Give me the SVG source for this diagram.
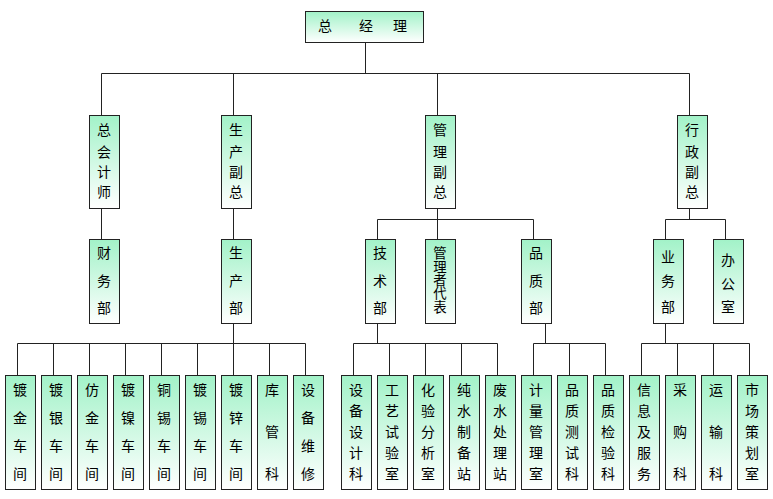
<svg xmlns="http://www.w3.org/2000/svg" width="773" height="499" viewBox="0 0 773 499">
<defs>
<linearGradient id="g" x1="0" y1="0" x2="0" y2="1">
<stop offset="0" stop-color="#a2f2c8"/>
<stop offset="1" stop-color="#ffffff"/>
</linearGradient>
<style>
.b{fill:url(#g);stroke:#222;stroke-width:1}
.t{font-family:"Noto Sans CJK SC","Noto Sans CJK JP",sans-serif;font-size:14px;fill:#000;text-anchor:middle}
.v{writing-mode:vertical-rl;font-size:13.4px}
.c{fill:none;stroke:#222;stroke-width:1}
</style>
</defs>
<rect width="773" height="499" fill="#fff"/>
<g id="connectors" class="c">
<path d="M365.5 42.5V73.5M101.5 73.5H689.5M101.5 73.5V115.5M233.5 73.5V115.5M437.5 73.5V115.5M689.5 73.5V115.5"/>
<path d="M101.5 208.5V239.5M233.5 208.5V239.5"/>
<path d="M233.5 323.5V343.5M17.5 343.5H305.5M17.5 343.5V375.5M53.5 343.5V375.5M89.5 343.5V375.5M125.5 343.5V375.5M161.5 343.5V375.5M197.5 343.5V375.5M233.5 343.5V375.5M269.5 343.5V375.5M305.5 343.5V375.5"/>
<path d="M437.5 208.5V219.5M377.5 219.5H533.5M377.5 219.5V239.5M437.5 219.5V239.5M533.5 219.5V239.5"/>
<path d="M377.5 323.5V343.5M353.5 343.5H497.5M353.5 343.5V375.5M389.5 343.5V375.5M425.5 343.5V375.5M461.5 343.5V375.5M497.5 343.5V375.5"/>
<path d="M545.5 323.5V343.5M533.5 343.5H605.5M533.5 343.5V375.5M569.5 343.5V375.5M605.5 343.5V375.5"/>
<path d="M689.5 208.5V219.5M665.5 219.5H725.5M665.5 219.5V239.5M725.5 219.5V239.5"/>
<path d="M665.5 323.5V343.5M641.5 343.5H749.5M641.5 343.5V375.5M677.5 343.5V375.5M713.5 343.5V375.5M749.5 343.5V375.5"/>
</g>
<g id="n-gm"><rect class="b" x="305.5" y="11.5" width="118" height="31"/><text class="t" y="31"><tspan x="325">总</tspan><tspan x="366">经</tspan><tspan x="400">理</tspan></text></g>

<g id="n-cfo"><rect class="b" x="89.5" y="115.5" width="30" height="93"/><text class="t"><tspan x="104" y="135">总</tspan><tspan x="104" y="156.5">会</tspan><tspan x="104" y="177">计</tspan><tspan x="104" y="197">师</tspan></text></g>
<g id="n-prodvp"><rect class="b" x="221.5" y="115.5" width="30" height="93"/><text class="t"><tspan x="236" y="135">生</tspan><tspan x="236" y="156.5">产</tspan><tspan x="236" y="177">副</tspan><tspan x="236" y="197">总</tspan></text></g>
<g id="n-mgmtvp"><rect class="b" x="425.5" y="115.5" width="30" height="93"/><text class="t"><tspan x="440" y="135">管</tspan><tspan x="440" y="156.5">理</tspan><tspan x="440" y="177">副</tspan><tspan x="440" y="197">总</tspan></text></g>
<g id="n-adminvp"><rect class="b" x="677.5" y="115.5" width="30" height="93"/><text class="t"><tspan x="692" y="135">行</tspan><tspan x="692" y="156.5">政</tspan><tspan x="692" y="177">副</tspan><tspan x="692" y="197">总</tspan></text></g>

<g id="n-fin"><rect class="b" x="89.5" y="239.5" width="30" height="84"/><text class="t"><tspan x="104" y="258">财</tspan><tspan x="104" y="286">务</tspan><tspan x="104" y="313">部</tspan></text></g>
<g id="n-prod"><rect class="b" x="221.5" y="239.5" width="30" height="84"/><text class="t"><tspan x="236" y="258">生</tspan><tspan x="236" y="286">产</tspan><tspan x="236" y="313">部</tspan></text></g>
<g id="n-tech"><rect class="b" x="365.5" y="239.5" width="30" height="84"/><text class="t"><tspan x="380" y="258">技</tspan><tspan x="380" y="286">术</tspan><tspan x="380" y="313">部</tspan></text></g>
<g id="n-rep"><rect class="b" x="425.5" y="239.5" width="30" height="84"/><text class="t v" x="440" y="280">管理者代表</text></g>
<g id="n-qa"><rect class="b" x="521.5" y="239.5" width="30" height="84"/><text class="t"><tspan x="536" y="258">品</tspan><tspan x="536" y="286">质</tspan><tspan x="536" y="313">部</tspan></text></g>
<g id="n-biz"><rect class="b" x="653.5" y="239.5" width="30" height="84"/><text class="t"><tspan x="668" y="262">业</tspan><tspan x="668" y="286">务</tspan><tspan x="668" y="312">部</tspan></text></g>
<g id="n-office"><rect class="b" x="713.5" y="239.5" width="30" height="84"/><text class="t"><tspan x="728" y="265">办</tspan><tspan x="728" y="288.5">公</tspan><tspan x="728" y="312">室</tspan></text></g>

<g id="n-b1"><rect class="b" x="5.5" y="375.5" width="30" height="114"/><text class="t"><tspan x="20" y="395">镀</tspan><tspan x="20" y="423">金</tspan><tspan x="20" y="451">车</tspan><tspan x="20" y="479">间</tspan></text></g>
<g id="n-b2"><rect class="b" x="41.5" y="375.5" width="30" height="114"/><text class="t"><tspan x="56" y="395">镀</tspan><tspan x="56" y="423">银</tspan><tspan x="56" y="451">车</tspan><tspan x="56" y="479">间</tspan></text></g>
<g id="n-b3"><rect class="b" x="77.5" y="375.5" width="30" height="114"/><text class="t"><tspan x="92" y="395">仿</tspan><tspan x="92" y="423">金</tspan><tspan x="92" y="451">车</tspan><tspan x="92" y="479">间</tspan></text></g>
<g id="n-b4"><rect class="b" x="113.5" y="375.5" width="30" height="114"/><text class="t"><tspan x="128" y="395">镀</tspan><tspan x="128" y="423">镍</tspan><tspan x="128" y="451">车</tspan><tspan x="128" y="479">间</tspan></text></g>
<g id="n-b5"><rect class="b" x="149.5" y="375.5" width="30" height="114"/><text class="t"><tspan x="164" y="395">铜</tspan><tspan x="164" y="423">锡</tspan><tspan x="164" y="451">车</tspan><tspan x="164" y="479">间</tspan></text></g>
<g id="n-b6"><rect class="b" x="185.5" y="375.5" width="30" height="114"/><text class="t"><tspan x="200" y="395">镀</tspan><tspan x="200" y="423">锡</tspan><tspan x="200" y="451">车</tspan><tspan x="200" y="479">间</tspan></text></g>
<g id="n-b7"><rect class="b" x="221.5" y="375.5" width="30" height="114"/><text class="t"><tspan x="236" y="395">镀</tspan><tspan x="236" y="423">锌</tspan><tspan x="236" y="451">车</tspan><tspan x="236" y="479">间</tspan></text></g>
<g id="n-b8"><rect class="b" x="257.5" y="375.5" width="30" height="114"/><text class="t"><tspan x="272" y="395">库</tspan><tspan x="272" y="437">管</tspan><tspan x="272" y="479">科</tspan></text></g>
<g id="n-b9"><rect class="b" x="293.5" y="375.5" width="30" height="114"/><text class="t"><tspan x="308" y="395">设</tspan><tspan x="308" y="423">备</tspan><tspan x="308" y="451">维</tspan><tspan x="308" y="479">修</tspan></text></g>

<g id="n-t1"><rect class="b" x="341.5" y="375.5" width="30" height="114"/><text class="t"><tspan x="356" y="395">设</tspan><tspan x="356" y="416">备</tspan><tspan x="356" y="437">设</tspan><tspan x="356" y="458">计</tspan><tspan x="356" y="479">科</tspan></text></g>
<g id="n-t2"><rect class="b" x="377.5" y="375.5" width="30" height="114"/><text class="t"><tspan x="392" y="395">工</tspan><tspan x="392" y="416">艺</tspan><tspan x="392" y="437">试</tspan><tspan x="392" y="458">验</tspan><tspan x="392" y="479">室</tspan></text></g>
<g id="n-t3"><rect class="b" x="413.5" y="375.5" width="30" height="114"/><text class="t"><tspan x="428" y="395">化</tspan><tspan x="428" y="416">验</tspan><tspan x="428" y="437">分</tspan><tspan x="428" y="458">析</tspan><tspan x="428" y="479">室</tspan></text></g>
<g id="n-t4"><rect class="b" x="449.5" y="375.5" width="30" height="114"/><text class="t"><tspan x="464" y="395">纯</tspan><tspan x="464" y="416">水</tspan><tspan x="464" y="437">制</tspan><tspan x="464" y="458">备</tspan><tspan x="464" y="479">站</tspan></text></g>
<g id="n-t5"><rect class="b" x="485.5" y="375.5" width="30" height="114"/><text class="t"><tspan x="500" y="395">废</tspan><tspan x="500" y="416">水</tspan><tspan x="500" y="437">处</tspan><tspan x="500" y="458">理</tspan><tspan x="500" y="479">站</tspan></text></g>

<g id="n-q1"><rect class="b" x="521.5" y="375.5" width="30" height="114"/><text class="t"><tspan x="536" y="395">计</tspan><tspan x="536" y="416">量</tspan><tspan x="536" y="437">管</tspan><tspan x="536" y="458">理</tspan><tspan x="536" y="479">室</tspan></text></g>
<g id="n-q2"><rect class="b" x="557.5" y="375.5" width="30" height="114"/><text class="t"><tspan x="572" y="395">品</tspan><tspan x="572" y="416">质</tspan><tspan x="572" y="437">测</tspan><tspan x="572" y="458">试</tspan><tspan x="572" y="479">科</tspan></text></g>
<g id="n-q3"><rect class="b" x="593.5" y="375.5" width="30" height="114"/><text class="t"><tspan x="608" y="395">品</tspan><tspan x="608" y="416">质</tspan><tspan x="608" y="437">检</tspan><tspan x="608" y="458">验</tspan><tspan x="608" y="479">科</tspan></text></g>

<g id="n-s1"><rect class="b" x="629.5" y="375.5" width="30" height="114"/><text class="t"><tspan x="644" y="395">信</tspan><tspan x="644" y="416">息</tspan><tspan x="644" y="437">及</tspan><tspan x="644" y="458">服</tspan><tspan x="644" y="479">务</tspan></text></g>
<g id="n-s2"><rect class="b" x="665.5" y="375.5" width="30" height="114"/><text class="t"><tspan x="680" y="395">采</tspan><tspan x="680" y="437">购</tspan><tspan x="680" y="479">科</tspan></text></g>
<g id="n-s3"><rect class="b" x="701.5" y="375.5" width="30" height="114"/><text class="t"><tspan x="716" y="395">运</tspan><tspan x="716" y="437">输</tspan><tspan x="716" y="479">科</tspan></text></g>
<g id="n-s4"><rect class="b" x="737.5" y="375.5" width="30" height="114"/><text class="t"><tspan x="752" y="395">市</tspan><tspan x="752" y="416">场</tspan><tspan x="752" y="437">策</tspan><tspan x="752" y="458">划</tspan><tspan x="752" y="479">室</tspan></text></g>
</svg>
